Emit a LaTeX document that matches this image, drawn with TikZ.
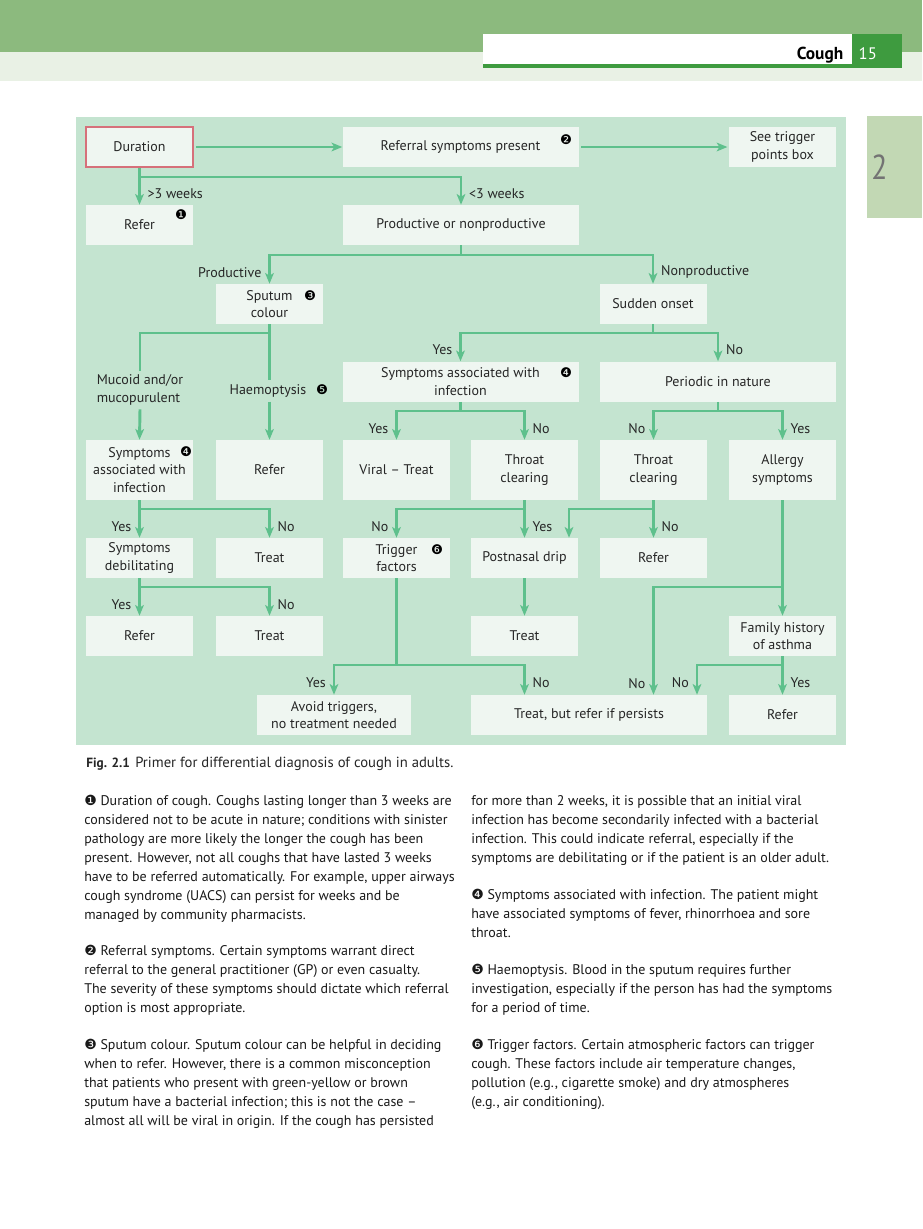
\documentclass[tikz,border=0pt]{standalone}
\usepackage{fontspec}
\setmainfont{PT Sans}
\newfontfamily\dingfont{DejaVu Sans}
\usetikzlibrary{positioning,arrows.meta}

\definecolor{topgreen}{RGB}{140,186,126}
\definecolor{bandgreen}{RGB}{233,241,229}
\definecolor{darkgreen}{RGB}{62,155,63}
\definecolor{tabgreen}{RGB}{194,216,180}
\definecolor{chartbg}{RGB}{196,228,208}
\definecolor{boxfill}{RGB}{239,246,241}
\definecolor{flowgreen}{RGB}{94,192,140}
\definecolor{startred}{RGB}{214,112,122}

\newcommand{\cn}[1]{{\dingfont #1}}

\begin{document}
\begin{tikzpicture}[x=0.75pt, y=-0.75pt, every node/.style={font=\fontsize{10.5}{13}\selectfont, text=black!85}]
\tikzstyle{box}=[fill=boxfill, minimum width=80.25pt, minimum height=30pt, inner sep=1pt, align=center]
\tikzstyle{wbox}=[box, minimum width=177pt]
\tikzstyle{hbox}=[box, minimum height=45pt]
\tikzstyle{ln}=[draw=flowgreen, line width=2.2pt]
\tikzstyle{arr}=[ln, -{Stealth[length=8pt, width=6.5pt, inset=2pt]}]
\tikzstyle{ll}=[left, pos=0.8, inner sep=5pt]
\tikzstyle{lr}=[right, pos=0.8, inner sep=5pt]
\tikzstyle{lls}=[left, pos=0.6, inner sep=5pt]
\tikzstyle{lrs}=[right, pos=0.6, inner sep=5pt]
\tikzstyle{num}=[inner sep=0pt, font=\dingfont\fontsize{10}{10}\selectfont, text=black]
\tikzstyle{para}=[anchor=north west, inner sep=0pt, align=left, text=black!90, font=\fontsize{10.5}{14.2}\selectfont]

\useasboundingbox (0,0) rectangle (922,1229);
\fill[white] (0,0) rectangle (922,1229);

% running head
\fill[topgreen] (0,0) rectangle (922,52);
\fill[bandgreen] (0,52) rectangle (922,81);
\fill[white] (483,34) rectangle (852,64);
\fill[darkgreen] (483,64) rectangle (902,68);
\fill[darkgreen] (852,34) rectangle (902,68);
\node[anchor=base east, font=\bfseries\fontsize{13}{13}\selectfont, text=black] (head) at (848,59) {Cough};
\node[anchor=base west, font=\fontsize{12.5}{12}\selectfont, text=white] (page) at (854,59) {15};
\fill[tabgreen] (867,116) rectangle (922,218);
\node[font=\fontsize{26}{26}\selectfont, text=black!55, xscale=0.85] (chap) at (879.5,167.5) {2};

% chart
\fill[chartbg] (76,117) rectangle (846,745);

\node[box, draw=startred, line width=0.8pt] (dur) at (139.5,147) {Duration};
\node[wbox] (refs) at (460.5,147) {Referral symptoms present};
\node[box] (seetrig) at (782.5,147) {See trigger\\points box};

\node[box] (ref1) at (139.5,225) {Refer};
\node[wbox] (prod) at (461,225) {Productive or nonproductive};

\node[box] (sput) at (269.5,304) {Sputum\\colour};
\node[box] (sudden) at (653,304) {Sudden onset};

\node[inner sep=3pt, align=left] (mucoid) at (140,390) {Mucoid and/or\\mucopurulent};
\node[inner sep=3pt] (haem) at (268,391) {Haemoptysis};
\node[wbox] (assoc) at (460.5,381.5) {Symptoms associated with\\infection};
\node[wbox] (periodic) at (718,381.5) {Periodic in nature};

\node[hbox] (sym4) at (139.5,470) {Symptoms\\associated with\\infection};
\node[hbox] (ref2) at (269.5,470) {Refer};
\node[hbox] (viral) at (396.5,470) {Viral -- Treat};
\node[hbox] (throat1) at (524.5,470) {Throat\\clearing};
\node[hbox] (throat2) at (653.5,470) {Throat\\clearing};
\node[hbox] (allergy) at (782.5,470) {Allergy\\symptoms};

\node[box] (symdeb) at (139.5,558) {Symptoms\\debilitating};
\node[box] (treat1) at (269.5,558) {Treat};
\node[box] (trig) at (396.5,558) {Trigger\\factors};
\node[box] (postn) at (524.5,558) {Postnasal drip};
\node[box] (ref3) at (653.5,558) {Refer};

\node[box] (ref4) at (139.5,636) {Refer};
\node[box] (treat2) at (269.5,636) {Treat};
\node[box] (treat3) at (524.5,636) {Treat};
\node[box] (famhist) at (782.5,636) {Family history\\of asthma};

\node[box, minimum width=115.5pt] (avoid) at (334,715) {Avoid triggers,\\no treatment needed};
\node[wbox] (tbr) at (589,715) {Treat, but refer if persists};
\node[box] (ref5) at (782.5,715) {Refer};

% note markers
\node[num] (n1) at (181,215) {❶};
\node[num] (n2) at (566,140) {❷};
\node[num] (n3) at (310,296) {❸};
\node[num] (n4a) at (566,373) {❹};
\node[num] (n4b) at (186,452) {❹};
\node[num] (n5) at (322,390) {❺};
\node[num] (n6) at (437,550) {❻};

% junctions
\coordinate (jA) at (139.5,177);
\coordinate (jB) at (461,255);
\coordinate (jC) at (269.5,333);
\coordinate (jD) at (653,333);
\coordinate (jE) at (460.5,411);
\coordinate (jF) at (718,411);
\coordinate (jG) at (139.5,509);
\coordinate (jH) at (524.5,509);
\coordinate (jI) at (653.5,509);
\coordinate (jJ) at (139.5,587);
\coordinate (jK) at (782.5,587);
\coordinate (jL) at (396.5,665);
\coordinate (jM) at (782.5,665);
\coordinate (cP) at (569,538);
\coordinate (cF) at (697,695);

% connectors
\draw[arr, shorten <=2pt] (dur) -- (refs);
\draw[arr, shorten <=2pt, shorten >=1pt] (refs) -- (seetrig);

\draw[ln] (dur.south) -- (jA);
\draw[arr] (jA) -- node[lrs]{>3 weeks} (ref1.north);
\draw[arr] (jA) -| node[lr]{<3 weeks} (prod.north);

\draw[ln] (prod.south) -- (jB);
\draw[arr] (jB) -| node[ll]{Productive} (sput.north);
\draw[arr] (jB) -| node[lr]{Nonproductive} (sudden.north);

\draw[ln] (sput.south) -- (sput.south |- haem.north);
\draw[ln] (jC) -| (mucoid.north);
\draw[arr] (mucoid.south) -- (sym4.north);
\draw[arr] (sput.south |- haem.south) -- (ref2.north);

\draw[ln] (sudden.south) -- (jD);
\draw[arr] (jD) -| node[ll]{Yes} (assoc.north);
\draw[arr] (jD) -| node[lr]{No} (periodic.north);

\draw[ln] (assoc.south) -- (jE);
\draw[arr] (jE) -| node[ll]{Yes} (viral.north);
\draw[arr] (jE) -| node[lr]{No} (throat1.north);

\draw[ln] (periodic.south) -- (jF);
\draw[arr] (jF) -| node[ll]{No} (throat2.north);
\draw[arr] (jF) -| node[lr]{Yes} (allergy.north);

\draw[ln] (sym4.south) -- (jG);
\draw[arr] (jG) -- node[lls]{Yes} (symdeb.north);
\draw[arr] (jG) -| node[lr]{No} (treat1.north);

\draw[ln] (throat1.south) -- (jH);
\draw[arr] (jH) -| node[ll]{No} (trig.north);
\draw[arr] (jH) -- node[lrs]{Yes} (postn.north);

\draw[ln] (throat2.south) -- (jI);
\draw[arr] (jI) -| (postn.north -| cP);
\draw[arr] (jI) -- node[lrs]{No} (ref3.north);

\draw[ln] (symdeb.south) -- (jJ);
\draw[arr] (jJ) -- node[lls]{Yes} (ref4.north);
\draw[arr] (jJ) -| node[lr]{No} (treat2.north);

\draw[arr] (postn) -- (treat3);

\draw[ln] (trig.south) -- (jL);
\draw[arr] (jL) -| node[ll]{Yes} (avoid.north);
\draw[arr] (jL) -| node[lr]{No} (tbr.north -| treat3);

\draw[arr] (allergy) -- (famhist);
\draw[arr] (jK) -| node[ll, pos=0.95]{No} (tbr.north -| ref3);

\draw[ln] (famhist.south) -- (jM);
\draw[arr] (jM) -| node[ll]{No} (tbr.north -| cF);
\draw[arr] (jM) -- node[lrs]{Yes} (ref5.north);

% caption and notes
\node[anchor=base west, inner sep=0pt, font=\bfseries\fontsize{10}{14}\selectfont] (figno) at (86,767) {Fig. 2.1};
\node[anchor=base west, inner sep=0pt, font=\fontsize{11}{14}\selectfont] (cap) at (135,767) {Primer for differential diagnosis of cough in adults.};

\node[para] (note1) at (84,792) {\strut\cn{❶} Duration of cough. Coughs lasting longer than 3 weeks are\\
considered not to be acute in nature; conditions with sinister\\
pathology are more likely the longer the cough has been\\
present. However, not all coughs that have lasted 3 weeks\\
have to be referred automatically. For example, upper airways\\
cough syndrome (UACS) can persist for weeks and be\\
managed by community pharmacists.};
\node[para] (note2) at (84,942) {\strut\cn{❷} Referral symptoms. Certain symptoms warrant direct\\
referral to the general practitioner (GP) or even casualty.\\
The severity of these symptoms should dictate which referral\\
option is most appropriate.};
\node[para] (note3) at (84,1036) {\strut\cn{❸} Sputum colour. Sputum colour can be helpful in deciding\\
when to refer. However, there is a common misconception\\
that patients who present with green-yellow or brown\\
sputum have a bacterial infection; this is not the case --\\
almost all will be viral in origin. If the cough has persisted};
\node[para] (note3b) at (471,792) {\strut for more than 2 weeks, it is possible that an initial viral\\
infection has become secondarily infected with a bacterial\\
infection. This could indicate referral, especially if the\\
symptoms are debilitating or if the patient is an older adult.};
\node[para] (note4) at (471,886) {\strut\cn{❹} Symptoms associated with infection. The patient might\\
have associated symptoms of fever, rhinorrhoea and sore\\
throat.};
\node[para] (note5) at (471,961) {\strut\cn{❺} Haemoptysis. Blood in the sputum requires further\\
investigation, especially if the person has had the symptoms\\
for a period of time.};
\node[para] (note6) at (471,1036) {\strut\cn{❻} Trigger factors. Certain atmospheric factors can trigger\\
cough. These factors include air temperature changes,\\
pollution (e.g., cigarette smoke) and dry atmospheres\\
(e.g., air conditioning).};
\end{tikzpicture}
\end{document}
